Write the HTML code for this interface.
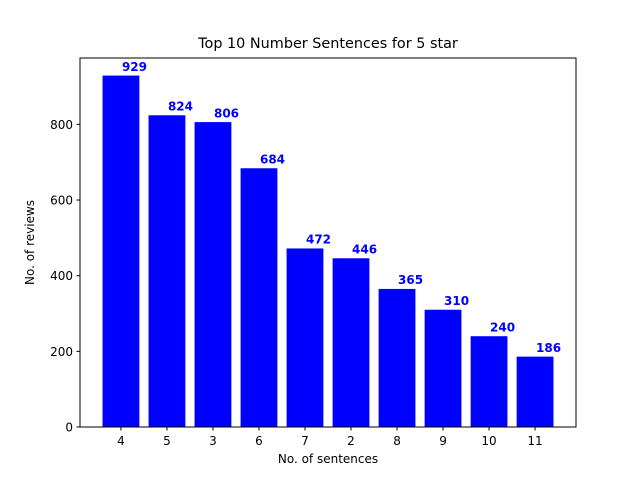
<!DOCTYPE html>
<html><head><meta charset="utf-8"><style>body{margin:0;background:#fff}svg text{font-family:"DejaVu Sans","Liberation Sans",sans-serif}</style></head>
<body>
<svg id="chart" width="640" height="480" xmlns="http://www.w3.org/2000/svg">
<rect width="640" height="480" fill="#fff"/>
<text x="328" y="48" text-anchor="middle" font-size="14.4">Top 10 Number Sentences for 5 star</text>
<g id="bars"></g><g id="ticks"></g>
<rect x="80" y="58" width="496" height="369" fill="none" stroke="#000" stroke-width="1"/>
<text x="328" y="463" text-anchor="middle" font-size="12">No. of sentences</text>
<text transform="translate(34,242.5) rotate(-90)" text-anchor="middle" font-size="12">No. of reviews</text>
</svg>
<script>
const categories=["4","5","3","6","7","2","8","9","10","11"];
const values=[929,824,806,684,472,446,365,310,240,186];
const yTicks=[0,200,400,600,800];
const L=80,R=576,T=58,B=427;
const ymax=Math.max(...values)*1.05;
const xmin=-0.89,xmax=categories.length-1+0.89;
const sx=v=>L+(v-xmin)/(xmax-xmin)*(R-L);
const sy=v=>B-v/ymax*(B-T);
const NS="http://www.w3.org/2000/svg";
const bars=document.getElementById('bars'),ticks=document.getElementById('ticks');
function mk(tag,attrs,parent){const e=document.createElementNS(NS,tag);for(const k in attrs)e.setAttribute(k,attrs[k]);parent.appendChild(e);return e;}
const bw=(sx(0.8)-sx(0));
values.forEach((v,i)=>{
 const r=mk('rect',{x:sx(i)-bw/2,y:sy(v),width:bw,height:B-sy(v),fill:'#0000ff'},bars);
 
 
 const t=mk('text',{x:sx(i)+1,y:sy(v+10)-1,fill:'#0000ff','font-size':'12','font-weight':'bold'},bars);
 t.textContent=v;
 
 
 const tk=mk('line',{x1:sx(i),x2:sx(i),y1:B,y2:B+3.5,stroke:'#000'},ticks);
 
 
 const tl=mk('text',{x:sx(i),y:B+18,'text-anchor':'middle','font-size':'12'},ticks);
 tl.textContent=categories[i];
 
 
});
yTicks.forEach(v=>{
 const tk=mk('line',{x1:L-3.5,x2:L,y1:sy(v),y2:sy(v),stroke:'#000'},ticks);
 
 
 const tl=mk('text',{x:L-7,y:sy(v)+4.5,'text-anchor':'end','font-size':'12'},ticks);
 tl.textContent=v;
 
 
});
</script>
</body></html>
